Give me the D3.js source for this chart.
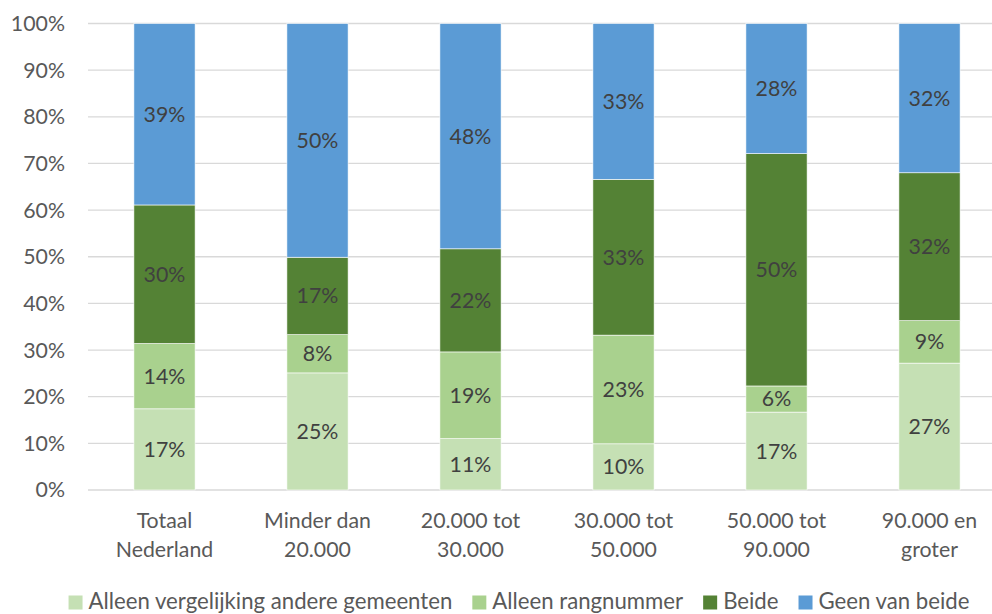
<!DOCTYPE html>
<html>
<head>
<meta charset="utf-8">
<script src="https://cdn.jsdelivr.net/npm/d3@7"></script>
<style>
  html, body { margin: 0; padding: 0; background: #fff; }
  svg { display: block; }
  text { font-family: Lato, "Open Sans", sans-serif; }
</style>
</head>
<body>
<svg id="chart" width="992" height="614"></svg>
<script>
const categories = [
  ["Totaal", "Nederland"],
  ["Minder dan", "20.000"],
  ["20.000 tot", "30.000"],
  ["30.000 tot", "50.000"],
  ["50.000 tot", "90.000"],
  ["90.000 en", "groter"]
];
const seriesNames = ["Alleen vergelijking andere gemeenten", "Alleen rangnummer", "Beide", "Geen van beide"];
const seriesColors = ["#C5E0B4", "#A9D18E", "#548235", "#5B9BD5"];
const alleenVergelijking = [17.4, 25.1, 11.0, 9.9, 16.7, 27.2];
const alleenRangnummer   = [14.0,  8.2, 18.6, 23.3,  5.6,  9.1];
const beide              = [29.7, 16.6, 22.1, 33.4, 49.8, 31.7];
const geenVanBeide       = [38.9, 50.1, 48.3, 33.4, 27.9, 32.0];
const yTicks = [0, 10, 20, 30, 40, 50, 60, 70, 80, 90, 100];

(function () {
const FS = 21.3;
const seriesValues = [alleenVergelijking, alleenRangnummer, beide, geenVanBeide];
const keys = ["s0", "s1", "s2", "s3"];
const table = categories.map((c, i) => {
  const row = { cat: c.join(" ") };
  keys.forEach((k, j) => row[k] = seriesValues[j][i]);
  return row;
});

const svg = d3.select("#chart");
const pLeft = 88, pRight = 1006, pTop = 23.5, pBottom = 490;

const x = d3.scaleBand().domain(table.map(d => d.cat)).range([pLeft, pRight])
  .paddingInner(0.6).paddingOuter(0.3);
const y = d3.scaleLinear().domain([0, 100]).range([pBottom, pTop]);

// gridlines
svg.append("g").selectAll("line").data(yTicks).join("line")
  .attr("x1", pLeft).attr("x2", pRight)
  .attr("y1", d => y(d)).attr("y2", d => y(d))
  .attr("stroke", "#D9D9D9").attr("stroke-width", 1.3);

// y tick labels
svg.append("g").selectAll("text").data(yTicks).join("text")
  .attr("x", 65).attr("y", d => y(d)).attr("dy", "0.35em")
  .attr("text-anchor", "end").attr("fill", "#595959")
  .attr("font-size", FS).text(d => d + "%");

const stack = d3.stack().keys(keys)(table);

const groups = svg.append("g").selectAll("g").data(stack).join("g")
  .attr("fill", (d, i) => seriesColors[i]);

groups.selectAll("rect").data(d => d).join("rect")
  .attr("x", d => x(d.data.cat))
  .attr("width", x.bandwidth())
  .attr("y", d => y(d[1]))
  .attr("height", d => y(d[0]) - y(d[1]))
  .attr("stroke", "#ffffff").attr("stroke-width", 0.6);

groups.selectAll("text").data(d => d).join("text")
  .attr("x", d => x(d.data.cat) + x.bandwidth() / 2)
  .attr("y", d => (y(d[0]) + y(d[1])) / 2)
  .attr("dy", "0.35em")
  .attr("text-anchor", "middle")
  .attr("fill", "#404040")
  .attr("font-size", FS)
  .text(d => Math.round(d[1] - d[0]) + "%");

// category labels
const catG = svg.append("g");
categories.forEach((c, i) => {
  const cx = x(table[i].cat) + x.bandwidth() / 2;
  const t = catG.append("text").attr("text-anchor", "middle").attr("fill", "#595959")
    .attr("font-size", FS);
  t.append("tspan").attr("x", cx).attr("y", 528).text(c[0]);
  t.append("tspan").attr("x", cx).attr("y", 557).text(c[1]);
});

// legend
const lg = svg.append("g");
const items = seriesNames.map((name, i) => {
  const g = lg.append("g");
  g.append("rect").attr("x", 0).attr("y", -13.5).attr("width", 14).attr("height", 14)
    .attr("fill", seriesColors[i]);
  const t = g.append("text").attr("x", 20).attr("y", 0).attr("fill", "#595959")
    .attr("font-size", 22.2).text(name);
  return { g, w: 20 + t.node().getComputedTextLength() };
});
const gap = 20;
const total = d3.sum(items, d => d.w) + gap * (items.length - 1);
let lx = 519 - total / 2;
items.forEach(it => {
  it.g.attr("transform", `translate(${lx},609)`);
  lx += it.w + gap;
});
})();
</script>
</body>
</html>
